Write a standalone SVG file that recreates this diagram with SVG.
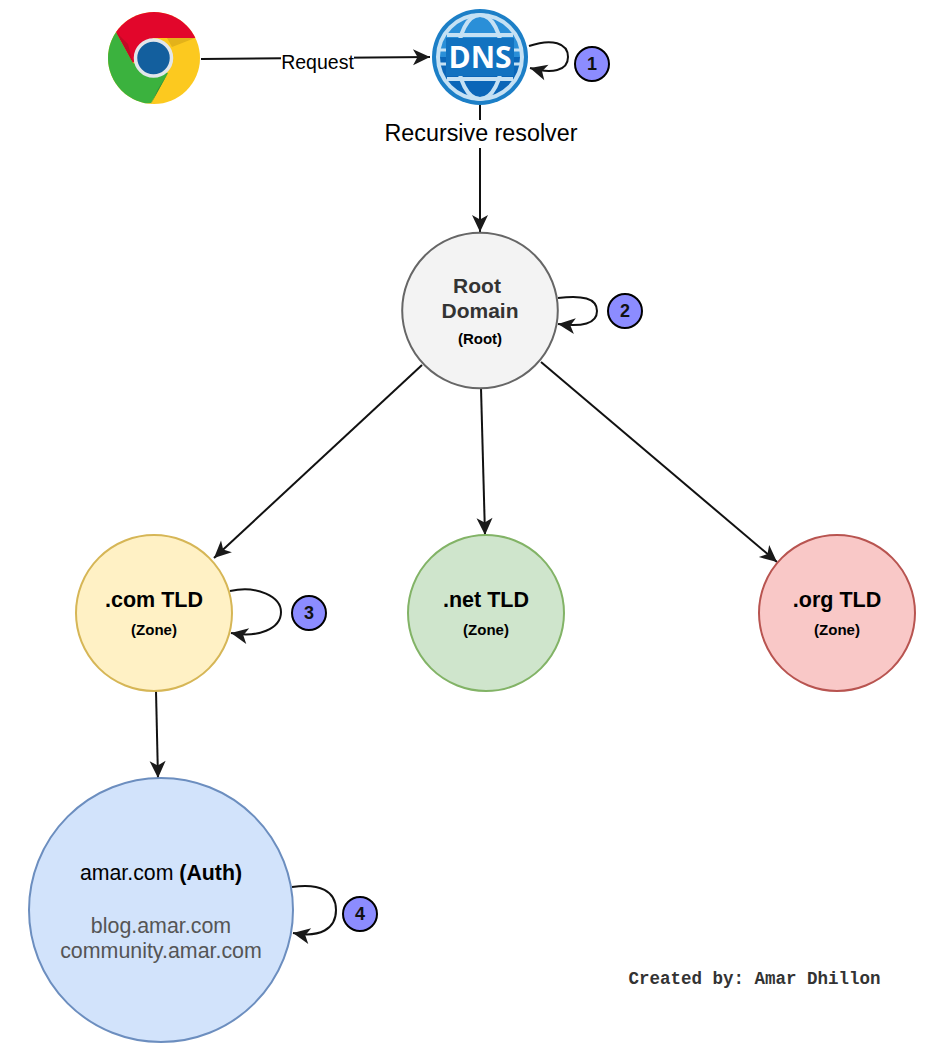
<svg xmlns="http://www.w3.org/2000/svg" width="947" height="1062" viewBox="0 0 947 1062">
<style>
text{font-family:"Liberation Sans",Arial,sans-serif;text-anchor:middle;fill:#000}
.b{font-weight:700}
.t{font-size:21px;font-weight:700}
.z{font-size:15px;font-weight:700}
.g{font-size:21.400px;fill:#555}
.e{fill:none;stroke:#111;stroke-width:2;marker-end:url(#a)}
.n{stroke-width:2}
.badge circle{fill:#8c8cff;stroke:#000;stroke-width:2}
.badge text{font-size:18px;font-weight:700;fill:#111}
</style>
<defs>
<marker id="a" markerUnits="userSpaceOnUse" markerWidth="20" markerHeight="18" refX="17" refY="8" orient="auto" overflow="visible">
<path d="M0 0L17 8L0 16L4.500 8Z" fill="#1a1a1a"/>
</marker>
<clipPath id="cc"><circle cx="154" cy="58" r="46"/></clipPath>
<clipPath id="dc"><circle cx="480" cy="57" r="42"/></clipPath>
</defs>
<g id="chrome">
<g clip-path="url(#cc)">
<rect x="108" y="12" width="92" height="92" fill="#fcc91f"/>
<path d="M116 32L133 63L153 38H196L205 12H100Z" fill="#e2062b"/>
<path d="M116 32L133 63L168 73L151 103L100 110L100 30Z" fill="#3bb23e"/>
<path d="M116 32L133 63L128 44Z" fill="#c10a25"/>
<path d="M167 38L195 38L172 47Z" fill="#e3b21a"/>
<path d="M151 104L168 73L158 89Z" fill="#2f8f3a"/>
</g>
<circle cx="153.500" cy="58" r="18" fill="#135f9e" stroke="#e2e6ea" stroke-width="3.500"/>
</g>
<g id="dns">
<circle cx="480" cy="57" r="48" fill="#1c7fc7"/>
<g clip-path="url(#dc)">
<rect x="438" y="15" width="84" height="42" fill="#2a8fd8"/>
<rect x="438" y="57" width="84" height="42" fill="#0b66b8"/>
</g>
<g fill="none" stroke="#c5e1f4" stroke-width="4">
<circle cx="480" cy="57" r="42"/>
<ellipse cx="480" cy="57" rx="22" ry="42"/>
<path d="M447 35H513M447 79H513"/>
</g>
<rect x="446" y="38" width="68" height="38" fill="#1272c0"/>
<path d="M438 50H446M514 50H522M438 64H446M514 64H522" fill="none" stroke="#c5e1f4" stroke-width="3"/>
<text x="480" y="68" style="font-family:'Open Sans','Liberation Sans',sans-serif;font-size:30px;font-weight:700;fill:#fff">DNS</text>
</g>
<g id="connectors">
<path class="e" d="M201 59L430 57"/>
<path d="M480 105V120" fill="none" stroke="#111" stroke-width="2"/>
<path class="e" d="M480 148V232"/>
<path class="e" d="M422 365L214 558"/>
<path class="e" d="M481 388L485 535"/>
<path class="e" d="M541 362L777 562"/>
<path class="e" d="M156 691L158 778"/>
<path class="e" d="M529 46C552 38 568 43 568 57C568 71 552 74 530 68"/>
<path class="e" d="M558 298C582 295 597 298 597 311C597 324 582 327 558 324"/>
<path class="e" d="M230 591C258 585 281 597 281 612C281 629 258 638 231 633"/>
<path class="e" d="M292 887C320 883 336 891 336 910C336 929 320 938 293 933"/>
</g>
<g id="request-label">
<rect x="281" y="50" width="73" height="24" fill="#fff"/>
<text x="317.500" y="69" font-size="19.500">Request</text>
</g>
<g id="resolver-label">
<text x="481" y="141" font-size="23.300">Recursive resolver</text>
</g>
<g id="root">
<circle class="n" cx="480" cy="310.500" r="77.800" fill="#f3f3f3" stroke="#666"/>
<text class="t" x="477" y="293" style="fill:#333">Root</text>
<text class="t" x="480" y="318" style="fill:#333">Domain</text>
<text class="z" x="480" y="344">(Root)</text>
</g>
<g id="com">
<circle class="n" cx="154" cy="613" r="78" fill="#fff1c5" stroke="#d6b656"/>
<text class="t" x="154" y="607" style="font-size:21.500px">.com TLD</text>
<text class="z" x="154" y="635">(Zone)</text>
</g>
<g id="net">
<circle class="n" cx="486" cy="613" r="78" fill="#cfe5cc" stroke="#82b366"/>
<text class="t" x="486" y="607" style="font-size:21.500px">.net TLD</text>
<text class="z" x="486" y="635">(Zone)</text>
</g>
<g id="org">
<circle class="n" cx="837" cy="613" r="78" fill="#f9c8c7" stroke="#b85450"/>
<text class="t" x="837" y="607" style="font-size:21.500px">.org TLD</text>
<text class="z" x="837" y="635">(Zone)</text>
</g>
<g id="auth">
<circle class="n" cx="161" cy="910" r="132" fill="#d2e3fb" stroke="#6c8ebf"/>
<text x="161" y="880" font-size="21.300">amar.com <tspan class="b">(Auth)</tspan></text>
<text class="g" x="161" y="933">blog.amar.com</text>
<text class="g" x="161" y="958">community.amar.com</text>
</g>
<g id="badge-1" class="badge"><circle cx="592" cy="64" r="17"/><text x="592" y="70">1</text></g>
<g id="badge-2" class="badge"><circle cx="625" cy="311" r="17"/><text x="625" y="317">2</text></g>
<g id="badge-3" class="badge"><circle cx="309" cy="613" r="17"/><text x="309" y="619">3</text></g>
<g id="badge-4" class="badge"><circle cx="360" cy="914" r="17"/><text x="360" y="920">4</text></g>
<g id="credit">
<text x="754.500" y="984" style="font-family:'Liberation Mono','Courier New',monospace;font-size:17.500px;font-weight:700;fill:#333">Created by: Amar Dhillon</text>
</g>
</svg>
